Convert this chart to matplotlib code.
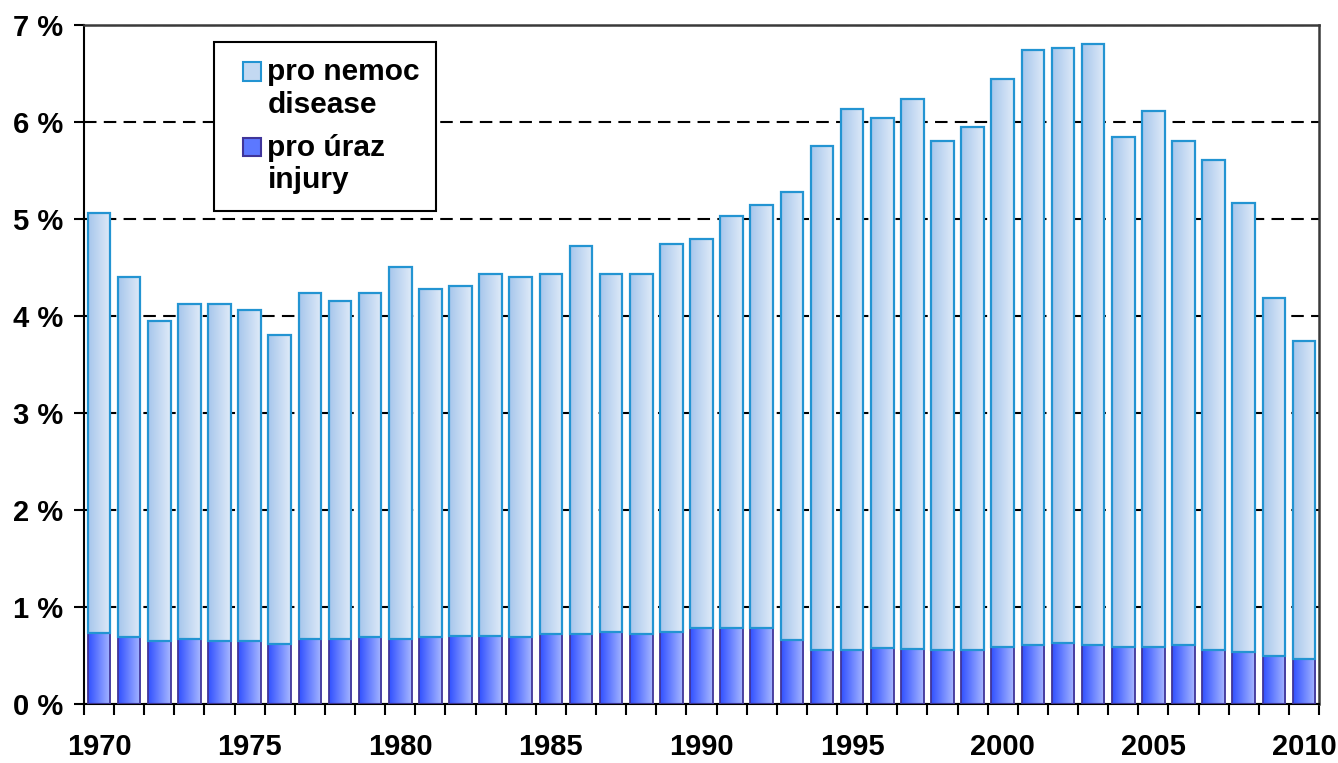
import numpy as np
import matplotlib
matplotlib.use("Agg")
import matplotlib.pyplot as plt
from matplotlib.colors import LinearSegmentedColormap
from matplotlib.patches import Rectangle, Patch
from matplotlib.legend_handler import HandlerPatch

plt.rcParams['font.family'] = ['Liberation Sans', 'DejaVu Sans']

# data (percent)
years = list(range(1970, 2011))
injury = [0.73, 0.69, 0.65, 0.67, 0.65, 0.65, 0.62, 0.67, 0.67, 0.69,
          0.67, 0.69, 0.70, 0.70, 0.69, 0.72, 0.72, 0.74, 0.72, 0.74,
          0.78, 0.78, 0.78, 0.66, 0.56, 0.56, 0.58, 0.57, 0.56, 0.56,
          0.59, 0.61, 0.63, 0.61, 0.59, 0.59, 0.61, 0.56, 0.54, 0.49,
          0.46]
disease = [4.33, 3.71, 3.30, 3.45, 3.47, 3.41, 3.18, 3.57, 3.48, 3.55,
           3.84, 3.59, 3.61, 3.73, 3.71, 3.71, 4.00, 3.69, 3.71, 4.00,
           4.01, 4.25, 4.36, 4.62, 5.19, 5.57, 5.46, 5.67, 5.24, 5.39,
           5.85, 6.13, 6.13, 6.19, 5.26, 5.52, 5.19, 5.05, 4.62, 3.70,
           3.28]
label_years = [1970, 1975, 1980, 1985, 1990, 1995, 2000, 2005, 2010]
y_ticks = [0, 1, 2, 3, 4, 5, 6, 7]

dis_cmap = LinearSegmentedColormap.from_list('dis', ['#a6c6ec', '#e0ebf8'])
inj_cmap = LinearSegmentedColormap.from_list('inj', ['#3050ff', '#a8b8ff'])
dis_edge = '#2394d2'
inj_edge = '#40359a'
fs = 21
leg_fs = 21.5

fig = plt.figure(figsize=(13.38, 7.63), dpi=100)
ax = fig.add_axes([84 / 1338, 1 - 704 / 763, (1319 - 84) / 1338, (704 - 25) / 763])

grad = np.linspace(0, 1, 256).reshape(1, -1)


def gradient_bars(bars, cmap):
    for p in bars:
        x0, y0 = p.get_x(), p.get_y()
        w, h = p.get_width(), p.get_height()
        im = ax.imshow(grad, cmap=cmap, aspect='auto', zorder=2,
                       extent=(x0, x0 + w, y0, y0 + h), interpolation='bilinear')
        im.set_clip_path(p)


b1 = ax.bar(years, injury, width=0.75, facecolor='none', edgecolor=inj_edge,
            linewidth=1.3, zorder=3)
b2 = ax.bar(years, disease, width=0.75, bottom=injury, facecolor='none',
            edgecolor=dis_edge, linewidth=1.6, zorder=3)
gradient_bars(b1, inj_cmap)
gradient_bars(b2, dis_cmap)

ax.set_xlim(1969.5, 2010.5)
ax.set_ylim(0, 7)

ax.set_yticks(y_ticks)
ax.set_yticklabels([f"{v} %" for v in y_ticks], fontsize=fs, fontweight='bold')
ax.tick_params(axis='y', direction='out', length=7, width=1.5, pad=8)

ax.set_xticks(label_years)
ax.set_xticklabels([str(y) for y in label_years], fontsize=fs, fontweight='bold')
ax.set_xticks(np.arange(1969.5, 2011, 1.0), minor=True)
ax.tick_params(axis='x', which='major', length=0, pad=21)
ax.tick_params(axis='x', which='minor', direction='out', length=8, width=1.5)

ax.set_axisbelow(True)
ax.yaxis.grid(True, color='black', linewidth=1.5, linestyle=(0, (6, 3.5)))
ax.xaxis.grid(False)

for s in ['left', 'bottom']:
    ax.spines[s].set_linewidth(1.5)
    ax.spines[s].set_color('black')
for s in ['top', 'right']:
    ax.spines[s].set_linewidth(1.8)
    ax.spines[s].set_color('#3a3a3a')


def top_square(legend, orig_handle, xdescent, ydescent, width, height, fontsize):
    side = 0.62 * fontsize
    return Rectangle((-xdescent + width - side, -ydescent + 0.6 * fontsize), side, side)


handles = [Patch(facecolor='#c3d9f2', edgecolor=dis_edge, linewidth=1.5),
           Patch(facecolor='#5c78ff', edgecolor=inj_edge, linewidth=1.5)]
leg = ax.legend(handles, ['pro nemoc\ndisease', 'pro úraz\ninjury'],
                loc='upper left', bbox_to_anchor=(0.105, 0.975), borderaxespad=0,
                prop={'size': leg_fs, 'weight': 'bold'}, fancybox=False,
                edgecolor='black', framealpha=1, handlelength=1.05,
                handleheight=0.62, handletextpad=0.2, labelspacing=0.5,
                borderpad=0.55,
                handler_map={Patch: HandlerPatch(patch_func=top_square)})
leg.get_frame().set_linewidth(1.5)
leg.set_zorder(5)

fig.savefig('out.png', dpi=100)
